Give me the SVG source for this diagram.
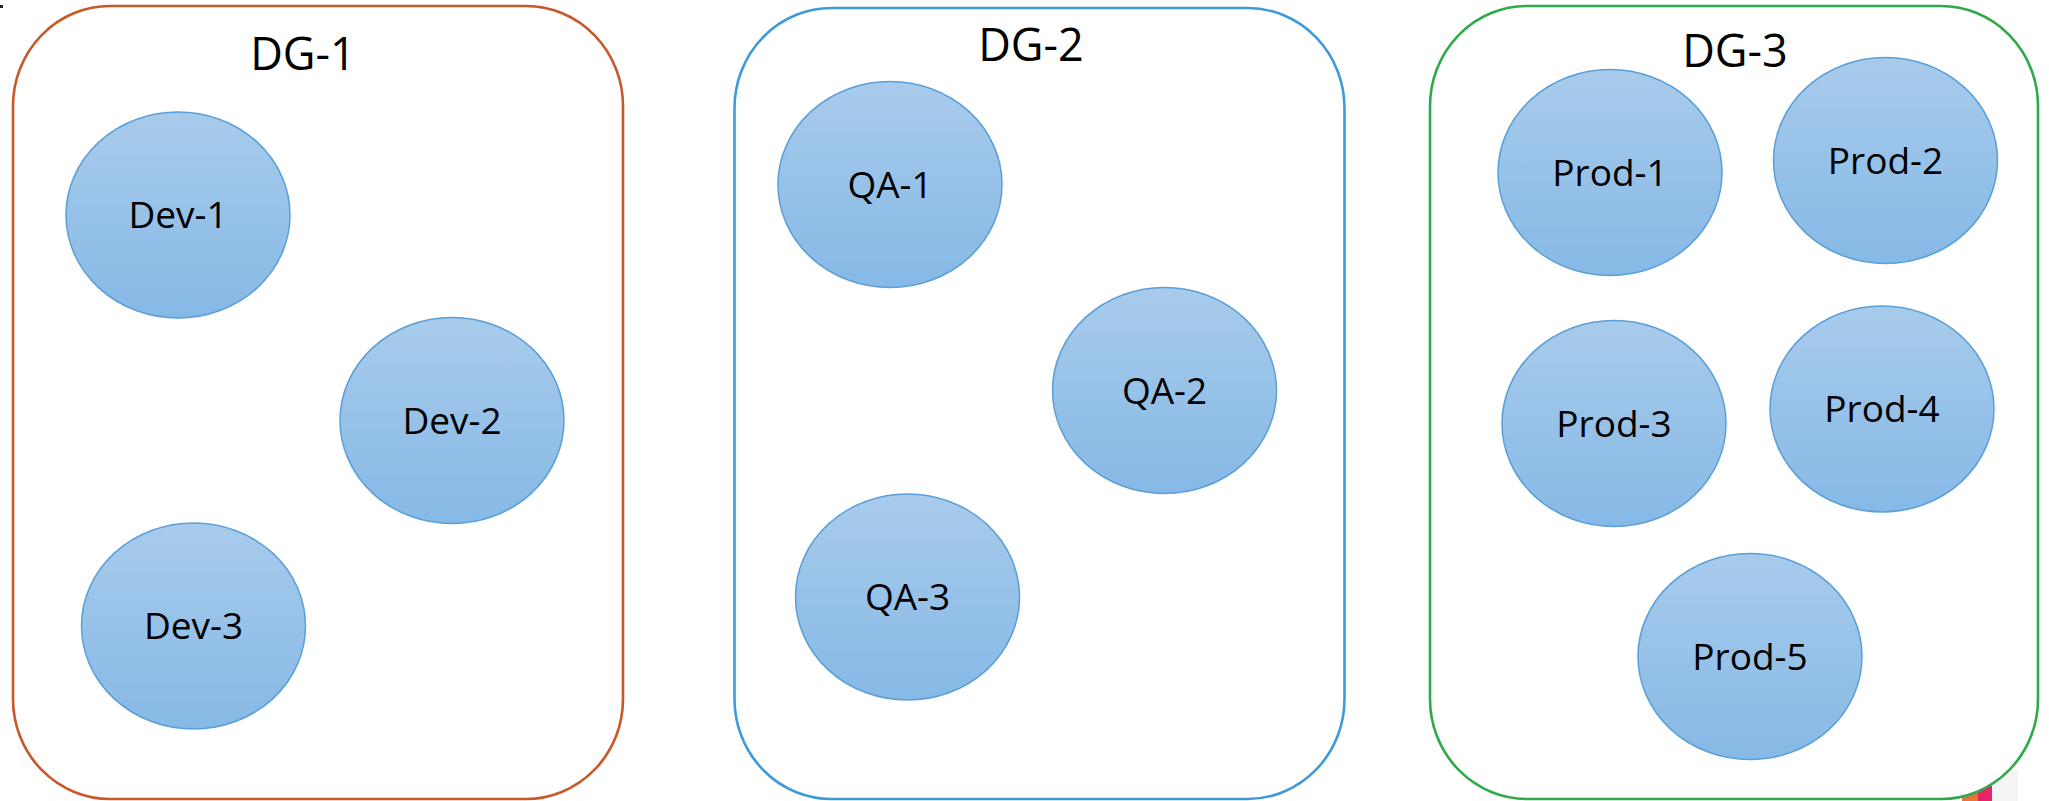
<svg xmlns="http://www.w3.org/2000/svg" width="2049" height="801" viewBox="0 0 2049 801">
<style>
.grp{fill:#ffffff;stroke-width:2.6}
.node{fill:url(#ng);stroke:#5a9fd8;stroke-width:1.5}
.title{font-family:"Open Sans","Noto Sans",sans-serif;font-size:45px;fill:#000;text-anchor:middle}
.lbl{font-family:"Open Sans","Noto Sans",sans-serif;font-size:37px;fill:#000;text-anchor:middle}
</style>
<defs>
<linearGradient id="ng" x1="0" y1="0" x2="0" y2="1">
<stop offset="0" stop-color="#a8cbeb"/>
<stop offset="1" stop-color="#86b9e6"/>
</linearGradient>
</defs>
<rect width="2049" height="801" fill="#ffffff"/>
<rect x="0" y="5" width="3" height="3" fill="#222222"/>
<rect x="1962" y="791" width="16" height="10" fill="#e8743c"/>
<rect x="1978" y="786" width="14" height="15" fill="#e82468"/>
<rect x="1992" y="770" width="26" height="31" fill="#f4f4f5"/>
<g id="connectors"></g>
<g id="DG-1">
<rect class="grp" x="13" y="6" width="610" height="793" rx="97" ry="100" stroke="#c8582a"/>
<text class="title" x="303" y="70">DG-1</text>
</g>
<g id="DG-2">
<rect class="grp" x="734.5" y="8" width="610" height="791" rx="97" ry="100" stroke="#3f9bd8"/>
<text class="title" x="1031" y="61">DG-2</text>
</g>
<g id="DG-3">
<rect class="grp" x="1430" y="6" width="608" height="793" rx="97" ry="100" stroke="#2faa4b"/>
<text class="title" x="1735" y="67">DG-3</text>
</g>
<g id="Dev-1"><ellipse class="node" cx="178" cy="215" rx="112" ry="103"/><text class="lbl" x="178" y="228">Dev-1</text></g>
<g id="Dev-2"><ellipse class="node" cx="452" cy="420.5" rx="112" ry="103"/><text class="lbl" x="452" y="434">Dev-2</text></g>
<g id="Dev-3"><ellipse class="node" cx="193.5" cy="626" rx="112" ry="103"/><text class="lbl" x="193.5" y="639">Dev-3</text></g>
<g id="QA-1"><ellipse class="node" cx="890" cy="184.5" rx="112" ry="103"/><text class="lbl" x="890" y="197.5">QA-1</text></g>
<g id="QA-2"><ellipse class="node" cx="1164.5" cy="390.5" rx="112" ry="103"/><text class="lbl" x="1164.5" y="403.5">QA-2</text></g>
<g id="QA-3"><ellipse class="node" cx="907.5" cy="597" rx="112" ry="103"/><text class="lbl" x="907.5" y="610">QA-3</text></g>
<g id="Prod-1"><ellipse class="node" cx="1610" cy="172.5" rx="112" ry="103"/><text class="lbl" x="1610" y="185.5">Prod-1</text></g>
<g id="Prod-2"><ellipse class="node" cx="1885.5" cy="160.5" rx="112" ry="103"/><text class="lbl" x="1885.5" y="173.5">Prod-2</text></g>
<g id="Prod-3"><ellipse class="node" cx="1614" cy="423.5" rx="112" ry="103"/><text class="lbl" x="1614" y="436.5">Prod-3</text></g>
<g id="Prod-4"><ellipse class="node" cx="1882" cy="409" rx="112" ry="103"/><text class="lbl" x="1882" y="422">Prod-4</text></g>
<g id="Prod-5"><ellipse class="node" cx="1750" cy="656.5" rx="112" ry="103"/><text class="lbl" x="1750" y="669.5">Prod-5</text></g>
</svg>
